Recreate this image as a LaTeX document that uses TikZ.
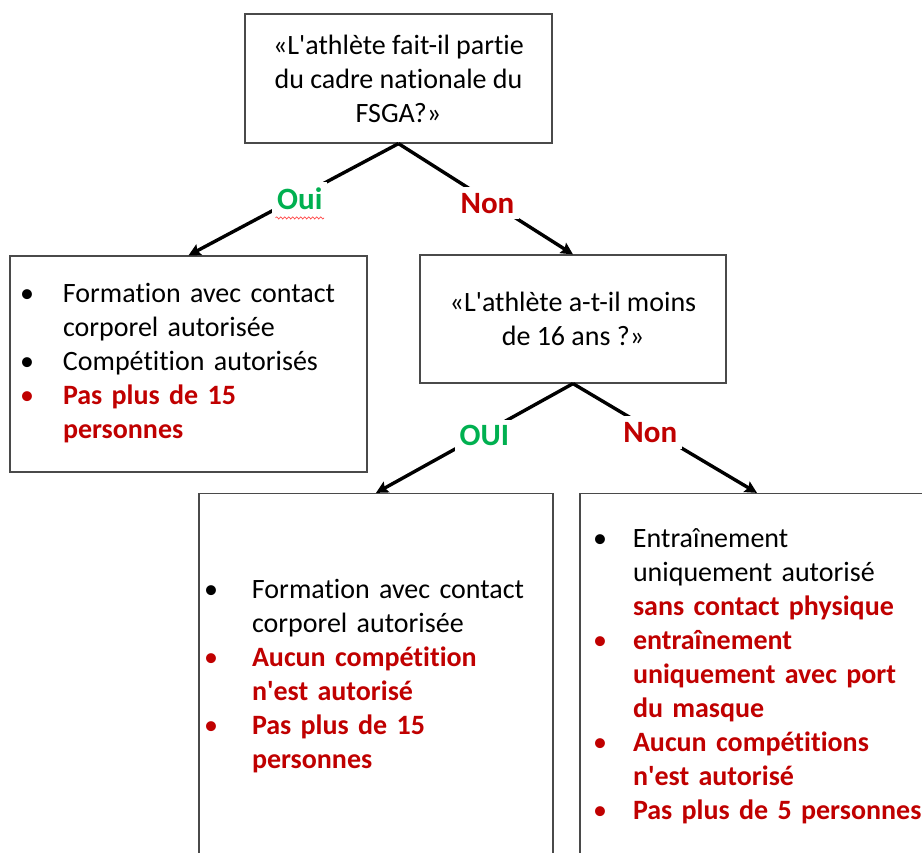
\documentclass[tikz,border=0pt]{standalone}
\usepackage{fontspec}
\setmainfont{Carlito}[Ligatures=NoCommon]
\usetikzlibrary{arrows.meta,decorations.pathmorphing}
\definecolor{okgreen}{HTML}{00B050}
\definecolor{nored}{HTML}{C00000}
\definecolor{boxgray}{HTML}{4A4A4A}
\definecolor{spellred}{HTML}{FF4B4B}
\newcommand\ap{\XeTeXglyph\XeTeXcharglyph"27\relax}
\newcommand\rb[1]{\textcolor{nored}{\bfseries #1}}
\newcommand\kb{\textbullet}
\newcommand\rbul{\textcolor{nored}{\textbullet}}
\begin{document}
\begin{tikzpicture}[x=1pt,y=-1pt,
  qbox/.style={draw=boxgray, line width=1.2pt, fill=white, align=center, inner sep=0pt,
    font=\fontsize{28}{34}\selectfont},
  lbox/.style={draw=boxgray, line width=1.2pt, fill=white, align=left, inner ysep=0pt,
    font=\fontsize{28}{34}\selectfont},
  arr/.style={line width=3.4pt, -{Stealth[length=12pt,width=12pt,inset=2pt]}},
  lbl/.style={fill=white, inner xsep=5pt, inner ysep=6pt, yshift=-3pt, font=\fontsize{31}{36}\selectfont\bfseries},
  spell/.style={spellred, line width=0.7pt, decorate,
    decoration={snake, amplitude=1.1pt, segment length=4pt}}
]
\useasboundingbox (0,0) rectangle (922,853);
\clip (0,0) rectangle (922,853);
\fill[white] (0,0) rectangle (922,853);

% question boxes
\node[qbox, minimum width=307pt, minimum height=129pt] (q1) at (398.5,78.5)
  {«L\ap athlète fait-il partie\\du cadre nationale du\\FSGA?»};
\node[qbox, minimum width=306pt, minimum height=128pt] (q2) at (573,319)
  {«L\ap athlète a-t-il moins\\de 16 ans ?»};

% answer boxes
\node[lbox, minimum height=216pt, inner xsep=10pt, text width=337pt] (a1) at (188.5,364)
  {\begin{tabular}{@{}p{43pt}@{}l@{}}
   \kb & Formation avec contact\\
       & corporel autorisée\\
   \kb & Compétition autorisés\\
   \rbul & \rb{Pas plus de 15}\\
       & \rb{personnes}
   \end{tabular}};

\node[lbox, minimum height=367pt, inner xsep=5pt, text width=344pt] (a2) at (376,677)
  {\begin{tabular}{@{}p{48pt}@{}l@{}}
   \kb & Formation avec contact\\
       & corporel autorisée\\
   \rbul & \rb{Aucun compétition}\\
       & \rb{n\ap est autorisé}\\
   \rbul & \rb{Pas plus de 15}\\
       & \rb{personnes}
   \end{tabular}};

\node[lbox, minimum height=367pt, inner xsep=13pt, text width=328pt] (a3) at (757,677)
  {\begin{tabular}{@{}p{40pt}@{}l@{}}
   \kb & Entraînement\\
       & uniquement autorisé\\
       & \rb{sans contact physique}\\
   \rbul & \rb{entraînement}\\
       & \rb{uniquement avec port}\\
       & \rb{du masque}\\
   \rbul & \rb{Aucun compétitions}\\
       & \rb{n\ap est autorisé}\\
   \rbul & \rb{Pas plus de 5 personnes}
   \end{tabular}};

% connectors
\draw[arr] (q1.south) -- node[lbl, text=okgreen, pos=0.47] (oui1) {Oui} (a1.north);
\draw[arr] (q1.south) -- node[lbl, text=nored, pos=0.51] (non1) {Non} (q2.north);
\draw[arr] (q2.south) -- node[lbl, text=okgreen, pos=0.45] (oui2) {OUI} (a2.north);
\draw[arr] (q2.south) -- node[lbl, text=nored, pos=0.42] (non2) {Non} (a3.north);

\draw[spell] ([xshift=5pt,yshift=-8pt]oui1.base west) -- ([xshift=-5pt,yshift=-8pt]oui1.base east);
\end{tikzpicture}
\end{document}
